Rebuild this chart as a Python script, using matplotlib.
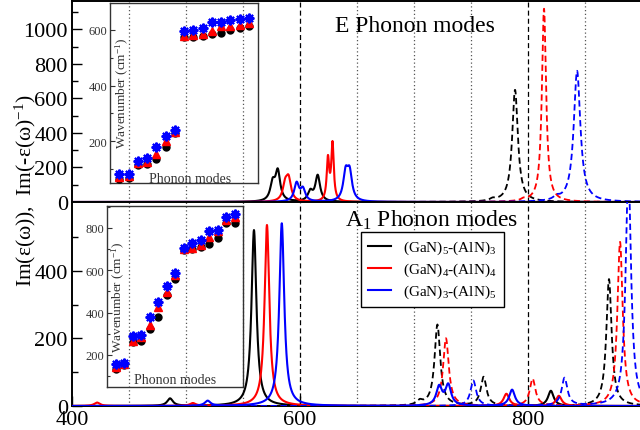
import numpy as np
import matplotlib
matplotlib.use('Agg')
import matplotlib.pyplot as plt
from matplotlib.ticker import MultipleLocator, FixedLocator

plt.rcParams['font.family'] = ['Liberation Serif', 'DejaVu Serif']
plt.rcParams['mathtext.fontset'] = 'custom'
plt.rcParams['mathtext.rm'] = 'Liberation Serif'
plt.rcParams['mathtext.it'] = 'Liberation Serif:italic'
plt.rcParams['mathtext.bf'] = 'Liberation Serif:bold'

# ---------------- data ----------------
series_labels = [r'(GaN)$_5$-(AlN)$_3$', r'(GaN)$_4$-(AlN)$_4$', r'(GaN)$_3$-(AlN)$_5$']
series_colors = ['black', 'red', 'blue']

# E modes, Im(eps) (solid): peak centres (cm-1), heights, half widths
E_eps_c = [[576, 580.5, 609, 615.5], [587, 590, 624.5, 628.5], [597, 602.5, 640, 643.5]]
E_eps_h = [[100, 170, 55, 150], [90, 120, 240, 330], [105, 70, 155, 155]]
E_eps_w = [[2.5, 2.5, 2.5, 2.5], [2.5, 2.5, 1.3, 1.3], [2.5, 2.5, 2.5, 2.5]]
# E modes, Im(-1/eps) (dashed)
E_loss_c = [[769, 788.6], [796, 814], [825, 843]]
E_loss_h = [[12, 650], [10, 1120], [18, 760]]
E_loss_w = [[3, 3.0], [2.5, 2.2], [3, 3.5]]

# A1 modes, Im(eps) (solid)
A_eps_c = [[486, 559.6, 820], [422, 506, 571, 781, 827], [519, 584, 722, 730, 786]]
A_eps_h = [[22, 520, 45], [10, 8, 535, 36, 30], [15, 540, 55, 60, 48]]
A_eps_w = [[3, 2.6, 3], [3, 3, 2.5, 3, 3], [3, 2.6, 3, 3, 3]]
# A1 modes, Im(-1/eps) (dashed)
A_loss_c = [[705, 720.5, 761, 871], [728, 804, 880.7], [752, 832, 888]]
A_loss_h = [[12, 240, 85, 375], [200, 80, 485], [75, 82, 700]]
A_loss_w = [[3, 3.0, 3, 2.8], [3, 3, 2.8], [3, 3, 2.8]]

# Insets: wavenumbers of the phonon modes
mode_index = list(range(1, 16))
E_modes = [
    [63, 67, 115, 118, 136, 179, 229, 576, 575, 577, 584, 589, 600, 606, 613],
    [70, 75, 121, 124, 153, 200, 234, 580, 583, 587, 596, 613, 615, 619, 624],
    [80, 83, 127, 138, 180, 217, 241, 595, 599, 606, 628, 630, 635, 640, 643],
]
A_modes = [
    [133, 152, 259, 264, 322, 380, 485, 559, 696, 701, 709, 724, 753, 824, 823],
    [141, 155, 267, 283, 341, 425, 499, 578, 701, 707, 720, 756, 784, 838, 853],
    [157, 161, 291, 294, 378, 451, 524, 587, 707, 728, 745, 787, 790, 850, 868],
]

dotted_lines = [450, 500, 550, 650, 700, 750, 850]
dashed_lines = [600, 800]

top_yticks = [0, 200, 400, 600, 800, 1000]
bot_yticks = [0, 200, 400]
xticks = [400, 600, 800]
inset_yticks = [200, 400, 600, 800]


def spectrum(x, centres, heights, widths):
    y = np.zeros_like(x)
    for c, h, w in zip(centres, heights, widths):
        y += h * w ** 2 / ((x - c) ** 2 + w ** 2)
    return y


x = np.linspace(400, 900, 6001)

fig = plt.figure(figsize=(6.4, 4.31), dpi=100)
ax_top = fig.add_axes([0.1125, 0.529, 0.8875, 0.4664])
ax_bot = fig.add_axes([0.1125, 0.0557, 0.8875, 0.4733])

dash = (0, (3.5, 2.0))
for ax in (ax_top, ax_bot):
    for v in dotted_lines:
        ax.axvline(v, color='#555555', lw=0.9, ls=(0, (1, 2)), zorder=1)
    for v in dashed_lines:
        ax.axvline(v, color='black', lw=0.9, ls=(0, (4, 2.5)), zorder=1)
    ax.set_xlim(400, 898.2)
    ax.spines['right'].set_visible(False)
    for s in ('left', 'top', 'bottom'):
        ax.spines[s].set_linewidth(1.4)
    ax.tick_params(axis='both', which='major', direction='in', length=7, width=1,
                   labelsize=16, pad=3, right=False, top=False)
    ax.tick_params(axis='both', which='minor', direction='in', length=4, width=1,
                   right=False, top=False)

for i in range(3):
    ax_top.plot(x, spectrum(x, E_eps_c[i], E_eps_h[i], E_eps_w[i]), color=series_colors[i], lw=1.5, zorder=3)
    ax_top.plot(x, spectrum(x, E_loss_c[i], E_loss_h[i], E_loss_w[i]), color=series_colors[i], lw=1.3, ls=dash, zorder=3)
    ax_bot.plot(x, spectrum(x, A_eps_c[i], A_eps_h[i], A_eps_w[i]), color=series_colors[i], lw=1.5, zorder=3,
                label=series_labels[i])
    ax_bot.plot(x, spectrum(x, A_loss_c[i], A_loss_h[i], A_loss_w[i]), color=series_colors[i], lw=1.3, ls=dash, zorder=3)

ax_top.set_ylim(0, 1165)
ax_top.yaxis.set_major_locator(FixedLocator(top_yticks))
ax_top.yaxis.set_minor_locator(MultipleLocator(100))
ax_top.set_xticks(xticks)
ax_top.tick_params(axis='x', which='both', length=0, labelbottom=False)

ax_bot.set_ylim(0, 603)
ax_bot.yaxis.set_major_locator(FixedLocator(bot_yticks))
ax_bot.yaxis.set_minor_locator(FixedLocator([100, 300, 500]))
ax_bot.set_xticks(xticks)

ax_top.text(630.7, 991, 'E Phonon modes', fontsize=17, ha='left', va='baseline')
ax_bot.text(639.5, 533, r'A$_1$ Phonon modes', fontsize=17, ha='left', va='baseline')

leg = ax_bot.legend(loc='upper left', bbox_to_anchor=(0.509, 0.853), borderaxespad=0,
                    fontsize=11, frameon=True, fancybox=False, framealpha=1,
                    edgecolor='black', handlelength=1.5, handletextpad=0.8,
                    borderpad=0.45, labelspacing=0.3)
leg.get_frame().set_linewidth(1.0)

fig.text(25 / 640, 1 - 191 / 431, r'Im(ε(ω)),  Im(-ε(ω)$^{-1}$)', rotation=90,
         ha='center', va='center', fontsize=15.5)

# ---------------- insets ----------------
ins_top = fig.add_axes([0.1719, 0.5731, 0.2313, 0.4176])
ins_bot = fig.add_axes([0.1672, 0.0998, 0.2125, 0.4199])

markers = [dict(marker='o', ms=5), dict(marker='^', ms=5.5), dict(marker=(8, 2, 0), ms=7, mew=1.5)]

for ins, data, ylim, lx, ly, px, py in (
        (ins_top, E_modes, (49, 697), 0.081, 0.506, 0.54, 0.006),
        (ins_bot, A_modes, (48, 904), 0.088, 0.503, 0.5, 0.024)):
    ins.set_facecolor('none')
    for i in range(3):
        ins.plot(mode_index, data[i], ls='none', color=series_colors[i],
                 mec=series_colors[i], zorder=3 + i, **markers[i])
    ins.set_xlim(0, 16)
    ins.set_ylim(*ylim)
    ins.set_xticks([])
    ins.yaxis.set_major_locator(FixedLocator(inset_yticks))
    ins.yaxis.set_minor_locator(MultipleLocator(100))
    ins.tick_params(axis='y', which='major', direction='in', length=3.5, width=0.8,
                    labelsize=9, labelcolor='#333333', pad=2, color='#333333')
    ins.tick_params(axis='y', which='minor', direction='in', length=2.5, width=0.8, color='#333333')
    for s in ins.spines.values():
        s.set_linewidth(1.0)
        s.set_color('#333333')
    ins.text(lx, ly, r'Wavenumber (cm$^{-1}$)', rotation=90, ha='center', va='center',
             fontsize=9.5, color='#333333', transform=ins.transAxes)
    ins.text(px, py, 'Phonon modes', ha='center', va='baseline', fontsize=10,
             color='#333333', transform=ins.transAxes)

fig.savefig('out.png', dpi=100)
